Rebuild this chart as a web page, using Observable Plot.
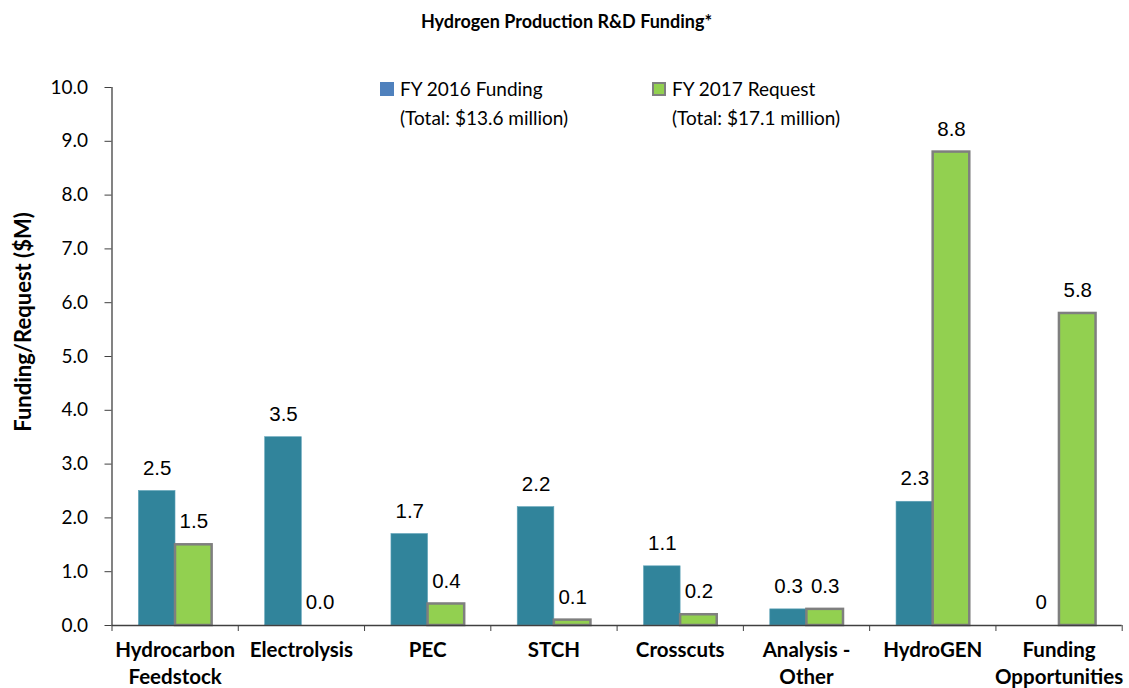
<!DOCTYPE html>
<html>
<head>
<meta charset="utf-8">
<script src="https://cdn.jsdelivr.net/npm/d3@7"></script>
<script src="https://cdn.jsdelivr.net/npm/@observablehq/plot@0.6"></script>
<style>
  body { margin: 0; background: #fff; }
  #wrap { position: relative; width: 1129px; height: 688px; font-family: Lato, "Open Sans", sans-serif; }
  #title { position: absolute; left: 2px; top: 10px; width: 1129px; text-align: center; font-weight: bold; font-size: 18px; color: #000; }
  #chart { position: absolute; left: 0; top: 45px; }
  #ylab { position: absolute; left: 22px; top: 322px; transform: translate(-50%, -50%) rotate(-90deg); white-space: nowrap; font-weight: bold; font-size: 22px; color: #000; }
  .leg { position: absolute; font-size: 19px; color: #000; line-height: 29px; white-space: nowrap; }
  .sw { position: absolute; width: 14px; height: 14px; }
</style>
</head>
<body>
<div id="wrap">
  <div id="title">Hydrogen Production R&amp;D Funding*</div>
  <div id="chart"></div>
  <div id="ylab">Funding/Request ($M)</div>
</div>
<script>
// ---- data ----
const categories = ["Hydrocarbon\nFeedstock", "Electrolysis", "PEC", "STCH", "Crosscuts", "Analysis -\nOther", "HydroGEN", "Funding\nOpportunities"];
const fy2016 = [2.5, 3.5, 1.7, 2.2, 1.1, 0.3, 2.3, 0];
const fy2017 = [1.5, 0.0, 0.4, 0.1, 0.2, 0.3, 8.8, 5.8];
const labels2016 = ["2.5", "3.5", "1.7", "2.2", "1.1", "0.3", "2.3", "0"];
const labels2017 = ["1.5", "0.0", "0.4", "0.1", "0.2", "0.3", "8.8", "5.8"];
const seriesNames = ["FY 2016 Funding", "FY 2017 Request"];
const seriesTotals = ["(Total: $13.6 million)", "(Total: $17.1 million)"];
const yTicks = [0, 1, 2, 3, 4, 5, 6, 7, 8, 9, 10];

// ---- layout / style ----
const barColor = ["#31849B", "#92D050"];
const legendColor = ["#4F81BD", "#92D050"];
const groupStart = 0.213, barW = 0.29;
const tickFont = 'Lato, "Open Sans", sans-serif';

const rows = [];
categories.forEach((c, i) => {
  [fy2016, fy2017].forEach((arr, s) => {
    const x1 = i + groupStart + s * barW;
    rows.push({i, s, value: arr[i], label: (s === 0 ? labels2016 : labels2017)[i], x1, x2: x1 + barW, xm: x1 + barW / 2});
  });
});

const chart = Plot.plot({
  width: 1129,
  height: 643,
  marginLeft: 111.5,
  marginRight: 7.3,
  marginTop: 42,
  marginBottom: 63,
  style: {fontFamily: tickFont, background: "#fff"},
  x: {type: "linear", domain: [0, categories.length], axis: null},
  y: {domain: [0, 10], axis: null},
  marks: [
    Plot.rectY(rows.filter(d => d.value > 0 && d.s === 0), {x1: "x1", x2: "x2", y1: 0, y2: "value", fill: barColor[0], stroke: "#5fa3b8", strokeWidth: 0.6}),
    Plot.rectY(rows.filter(d => d.value > 0 && d.s === 1), {x1: "x1", x2: "x2", y1: 0, y2: "value", fill: barColor[1], stroke: "#7f7f7f", strokeWidth: 2.5}),
    Plot.axisY({ticks: yTicks, tickFormat: d => d.toFixed(1), tickSize: 7, tickPadding: 17, fontSize: 19, stroke: "#404040", color: "#000", anchor: "left", label: null}),
    Plot.axisX({ticks: d3.range(0, categories.length + 1), tickSize: 6, tickFormat: () => "", stroke: "#404040", anchor: "bottom", label: null}),
    Plot.axisX({ticks: d3.range(categories.length).map(i => i + 0.5), tickSize: 0, tickPadding: 13, tickFormat: v => categories[Math.round(v - 0.5)], fontSize: 20.5, fontWeight: "bold", lineHeight: 1.3, anchor: "bottom", label: null, color: "#000"}),
    Plot.ruleX([0], {stroke: "#404040", strokeWidth: 1.3}),
    Plot.ruleY([0], {stroke: "#404040", strokeWidth: 1.3}),
    Plot.text(rows, {x: "xm", y: "value", text: "label", dy: -23, fontSize: 20.5, fontFamily: '"Liberation Sans", Arial, sans-serif', fill: "#000"})
  ]
});
document.getElementById("chart").appendChild(chart);

// ---- legend ----
const wrap = document.getElementById("wrap");
const legX = [380, 652];
seriesNames.forEach((name, s) => {
  const sw = document.createElement("div");
  sw.className = "sw";
  sw.style.left = legX[s] + "px";
  sw.style.top = "82px";
  sw.style.background = legendColor[s];
  sw.style.boxSizing = "border-box";
  if (s === 1) sw.style.border = "2px solid #7f7f7f";
  wrap.appendChild(sw);
  const t = document.createElement("div");
  t.className = "leg";
  t.style.left = (legX[s] + 20) + "px";
  t.style.top = "74px";
  t.innerHTML = name + "<br>" + seriesTotals[s];
  wrap.appendChild(t);
});
</script>
</body>
</html>
